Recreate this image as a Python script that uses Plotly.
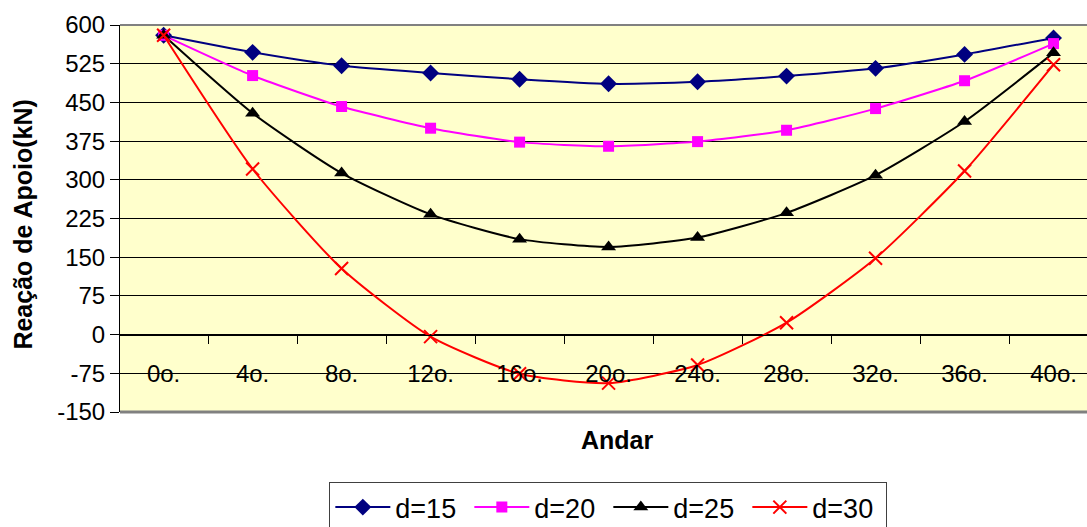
import plotly.graph_objects as go

categories = ["0o.", "4o.", "8o.", "12o.", "16o.", "20o.", "24o.", "28o.", "32o.", "36o.", "40o."]
d15 = [580, 547, 521, 507, 495, 486, 490, 501, 516, 543, 575]
d20 = [580, 502, 442, 400, 373, 365, 374, 396, 438, 492, 564]
d25 = [580, 429, 313, 233, 185, 170, 188, 236, 309, 413, 546]
d30 = [580, 321, 128, -4, -76, -94, -59, 23, 148, 317, 523]
y_ticks = [-150, -75, 0, 75, 150, 225, 300, 375, 450, 525, 600]
y_tick_labels = ["-150", "-75", "0", "75", "150", "225", "300", "375", "450", "525", "600"]

FONT = "Liberation Sans, Arial, sans-serif"

fig = go.Figure()
series = [
    ("d=15", d15, "#000080", dict(symbol="diamond", size=13, color="#000080")),
    ("d=20", d20, "#FF00FF", dict(symbol="square", size=11, color="#FF00FF")),
    ("d=25", d25, "#000000", dict(symbol="triangle-up", size=13, color="#000000")),
    ("d=30", d30, "#FF0000", dict(symbol="x-thin", size=13, color="#FF0000",
                                  line=dict(color="#FF0000", width=2))),
]
for name, vals, col, mk in series:
    fig.add_trace(go.Scatter(
        x=categories, y=vals, name=name, mode="lines+markers",
        line=dict(color=col, width=2, shape="spline", smoothing=0.6),
        marker=mk,
    ))

fig.update_layout(
    width=1087, height=527,
    margin=dict(l=120, r=0, t=25, b=115, autoexpand=False),
    paper_bgcolor="white",
    plot_bgcolor="#FFFFCC",
    font=dict(family=FONT, size=24, color="black"),
    showlegend=True,
    legend=dict(
        orientation="h", x=0.505, xanchor="center", y=-0.181, yanchor="top",
        bordercolor="#404040", borderwidth=1, bgcolor="white",
        font=dict(family=FONT, size=27, color="black"),
        itemwidth=55, entrywidth=69, entrywidthmode="pixels", tracegroupgap=0,
    ),
    xaxis=dict(
        type="category", categoryorder="array", categoryarray=categories,
        range=[-0.49, 10.376],
        anchor="free", position=0.2,
        showline=True, linecolor="black", linewidth=1,
        ticks="outside", tickson="boundaries", ticklen=8, tickcolor="black",
        ticklabelstandoff=18,
        showgrid=False, zeroline=False,
        tickfont=dict(family=FONT, size=24, color="black"),
    ),
    yaxis=dict(
        range=[-150, 600], tickvals=y_ticks, ticktext=y_tick_labels,
        showline=True, linecolor="black", linewidth=1,
        ticks="outside", ticklen=9, tickcolor="black",
        showgrid=True, gridcolor="black", gridwidth=1,
        zeroline=False,
        tickfont=dict(family=FONT, size=24, color="black"),
    ),
    shapes=[
        dict(type="line", xref="paper", yref="paper", x0=0, x1=1, y0=1, y1=1,
             line=dict(color="#808080", width=2), layer="above"),
        dict(type="line", xref="paper", yref="paper", x0=0, x1=1, y0=0, y1=0,
             line=dict(color="#808080", width=3), layer="above"),
    ],
    annotations=[
        dict(text="<b>Andar</b>", xref="paper", yref="paper", x=0.514, y=-0.072,
             xanchor="center", yanchor="middle", showarrow=False,
             font=dict(family=FONT, size=25, color="black")),
        dict(text="<b>Reação de Apoio(kN)</b>", xref="paper", yref="paper",
             x=-0.1, y=0.485, xanchor="center", yanchor="middle", textangle=-90,
             showarrow=False, font=dict(family=FONT, size=25, color="black")),
    ],
)

fig.write_html("out.html")
